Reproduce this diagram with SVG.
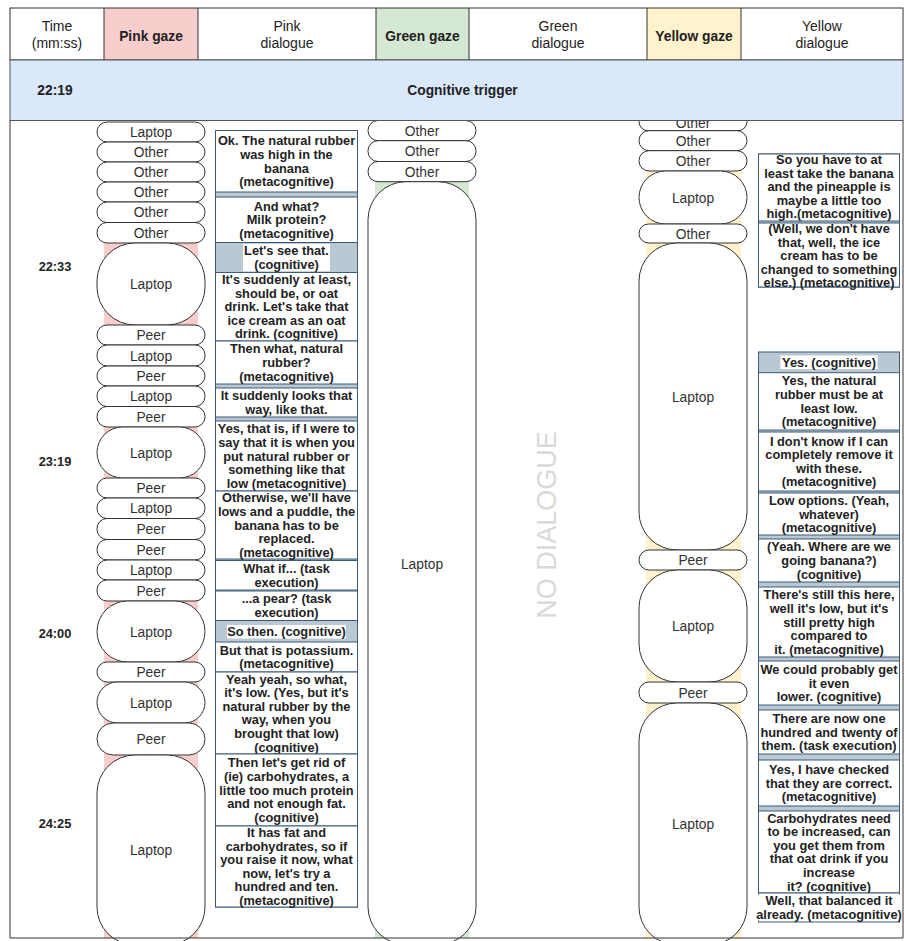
<svg xmlns="http://www.w3.org/2000/svg" width="904" height="941" viewBox="0 0 904 941">
<style>
text{font-family:"Liberation Sans",Arial,sans-serif;text-anchor:middle}
.h{font-size:14px;fill:#222}
.hb{font-size:13.8px;fill:#222;font-weight:bold}
.tm{font-size:12.8px;font-weight:bold;fill:#222}
.gz rect{fill:#fff;stroke:#333;stroke-width:1}
.gz text{font-size:13.8px;fill:#333}
.dl text{font-size:12.8px;font-weight:bold;fill:#222}
.bg{fill:#bac8d3;stroke:#3b5b78;stroke-width:1}
.wb{fill:#fff;stroke:#3b5b78;stroke-width:1}
.lb{fill:#fff}
.ln{stroke:#333;stroke-width:1;fill:none}
</style>

<!-- header -->
<g id="header">
<rect x="10" y="8" width="893" height="52" fill="#fff"/>
<rect x="104" y="8" width="94" height="52" fill="#f8cecc"/>
<rect x="376" y="8" width="93" height="52" fill="#d5e8d4"/>
<rect x="647" y="8" width="94" height="52" fill="#fff2cc"/>
<rect class="ln" x="10" y="8" width="893" height="52"/>
<path class="ln" d="M104 8V60M198 8V60M376 8V60M469 8V60M647 8V60M741 8V60"/>
<text class="h" x="57" y="30.5">Time</text>
<text class="h" x="57" y="48">(mm:ss)</text>
<text class="hb" x="151" y="40.5">Pink gaze</text>
<text class="h" x="287" y="30.5">Pink</text>
<text class="h" x="287" y="48">dialogue</text>
<text class="hb" x="422.5" y="40.5">Green gaze</text>
<text class="h" x="558" y="30.5">Green</text>
<text class="h" x="558" y="48">dialogue</text>
<text class="hb" x="694" y="40.5">Yellow gaze</text>
<text class="h" x="822" y="30.5">Yellow</text>
<text class="h" x="822" y="48">dialogue</text>
</g>

<!-- column strips -->
<rect x="104" y="243" width="94" height="695" fill="#f8cecc"/>
<rect x="375" y="182" width="94" height="756" fill="#d5e8d4"/>
<rect x="646" y="171" width="95" height="767" fill="#fff2cc"/>

<!-- time labels -->
<g id="times">
<text class="tm" x="55" y="270.5">22:33</text>
<text class="tm" x="55" y="465.5">23:19</text>
<text class="tm" x="55" y="637.5">24:00</text>
<text class="tm" x="55" y="827.5">24:25</text>
</g>

<!-- pink gaze -->
<g class="gz" id="pink-gaze">
<g id="pg1"><rect x="97" y="122" width="108" height="20" rx="10" ry="10"/><text x="151" y="137">Laptop</text></g>
<g id="pg2"><rect x="97" y="142" width="108" height="20" rx="10" ry="10"/><text x="151" y="157">Other</text></g>
<g id="pg3"><rect x="97" y="162" width="108" height="20" rx="10" ry="10"/><text x="151" y="177">Other</text></g>
<g id="pg4"><rect x="97" y="182" width="108" height="20" rx="10" ry="10"/><text x="151" y="197">Other</text></g>
<g id="pg5"><rect x="97" y="202" width="108" height="20.5" rx="10" ry="10"/><text x="151" y="217">Other</text></g>
<g id="pg6"><rect x="97" y="222.5" width="108" height="20.5" rx="10" ry="10"/><text x="151" y="237.5">Other</text></g>
<g id="pg7"><rect x="97" y="243" width="108" height="82" rx="38" ry="38"/><text x="151" y="289">Laptop</text></g>
<g id="pg8"><rect x="97" y="325" width="108" height="20" rx="10" ry="10"/><text x="151" y="340">Peer</text></g>
<g id="pg9"><rect x="97" y="345" width="108" height="21" rx="10" ry="10"/><text x="151" y="360.5">Laptop</text></g>
<g id="pg10"><rect x="97" y="366" width="108" height="20" rx="10" ry="10"/><text x="151" y="381">Peer</text></g>
<g id="pg11"><rect x="97" y="386" width="108" height="20.5" rx="10" ry="10"/><text x="151" y="401">Laptop</text></g>
<g id="pg12"><rect x="97" y="406.5" width="108" height="20.5" rx="10" ry="10"/><text x="151" y="421.5">Peer</text></g>
<g id="pg13"><rect x="97" y="427" width="108" height="51" rx="25.5" ry="25.5"/><text x="151" y="457.5">Laptop</text></g>
<g id="pg14"><rect x="97" y="478" width="108" height="20" rx="10" ry="10"/><text x="151" y="493">Peer</text></g>
<g id="pg15"><rect x="97" y="498" width="108" height="20.5" rx="10" ry="10"/><text x="151" y="513">Laptop</text></g>
<g id="pg16"><rect x="97" y="518.5" width="108" height="21" rx="10" ry="10"/><text x="151" y="534">Peer</text></g>
<g id="pg17"><rect x="97" y="539.5" width="108" height="20.5" rx="10" ry="10"/><text x="151" y="554.5">Peer</text></g>
<g id="pg18"><rect x="97" y="560" width="108" height="20" rx="10" ry="10"/><text x="151" y="575">Laptop</text></g>
<g id="pg19"><rect x="97" y="580" width="108" height="21" rx="10" ry="10"/><text x="151" y="595.5">Peer</text></g>
<g id="pg20"><rect x="97" y="601" width="108" height="61" rx="30.5" ry="30.5"/><text x="151" y="636.5">Laptop</text></g>
<g id="pg21"><rect x="97" y="662" width="108" height="20" rx="10" ry="10"/><text x="151" y="677">Peer</text></g>
<g id="pg22"><rect x="97" y="682" width="108" height="41" rx="20.5" ry="20.5"/><text x="151" y="707.5">Laptop</text></g>
<g id="pg23"><rect x="97" y="723" width="108" height="32" rx="16" ry="16"/><text x="151" y="744">Peer</text></g>
<g id="pg24"><rect x="97" y="755" width="108" height="190" rx="38" ry="38"/><text x="151" y="855">Laptop</text></g>
</g>

<!-- green gaze -->
<g class="gz" id="green-gaze">
<g id="gg1"><rect x="368" y="120.5" width="108" height="20.2" rx="10" ry="10"/><text x="422" y="135.5">Other</text></g>
<g id="gg2"><rect x="368" y="140.7" width="108" height="20.8" rx="10" ry="10"/><text x="422" y="156">Other</text></g>
<g id="gg3"><rect x="368" y="161.5" width="108" height="20.2" rx="10" ry="10"/><text x="422" y="176.5">Other</text></g>
<g id="gg4"><rect x="368" y="181.7" width="108" height="763" rx="38" ry="38"/><text x="422" y="568.5">Laptop</text></g>
</g>

<!-- yellow gaze -->
<g class="gz" id="yellow-gaze">
<g id="yg1"><rect x="639" y="112" width="108" height="18.7" rx="9" ry="9"/><text x="693" y="128">Other</text></g>
<g id="yg2"><rect x="639" y="130.7" width="108" height="20" rx="10" ry="10"/><text x="693" y="145.7">Other</text></g>
<g id="yg3"><rect x="639" y="150.7" width="108" height="20.3" rx="10" ry="10"/><text x="693" y="165.8">Other</text></g>
<g id="yg4"><rect x="639" y="171" width="108" height="53" rx="26.5" ry="26.5"/><text x="693" y="202.5">Laptop</text></g>
<g id="yg5"><rect x="639" y="224" width="108" height="19" rx="9.5" ry="9.5"/><text x="693" y="238.5">Other</text></g>
<g id="yg6"><rect x="639" y="243" width="108" height="307" rx="38" ry="38"/><text x="693" y="401.5">Laptop</text></g>
<g id="yg7"><rect x="639" y="550" width="108" height="20" rx="10" ry="10"/><text x="693" y="565">Peer</text></g>
<g id="yg8"><rect x="639" y="570" width="108" height="112" rx="38" ry="38"/><text x="693" y="631">Laptop</text></g>
<g id="yg9"><rect x="639" y="682" width="108" height="21" rx="10" ry="10"/><text x="693" y="697.5">Peer</text></g>
<g id="yg10"><rect x="639" y="703" width="108" height="242" rx="38" ry="38"/><text x="693" y="829">Laptop</text></g>
</g>

<!-- trigger row (drawn over the first boxes) -->
<g id="trigger">
<rect x="10" y="60" width="893" height="60.5" fill="#dae8fc" stroke="#555" stroke-width="1"/>
<text class="hb" x="55" y="95">22:19</text>
<text class="hb" x="462.5" y="95">Cognitive trigger</text>
</g>

<!-- pink dialogue -->
<g class="dl" id="pink-dialogue">
<rect class="bg" x="215.5" y="130.5" width="142" height="776.5"/>
<g id="pd1"><rect class="wb" x="215.5" y="130.5" width="142" height="61.5"/>
<text x="286.5" y="145.35"><tspan x="286.5">Ok. The natural rubber</tspan><tspan x="286.5" dy="13.6">was high in the</tspan><tspan x="286.5" dy="13.6">banana</tspan><tspan x="286.5" dy="13.6">(metacognitive)</tspan></text></g>
<g id="pd2"><rect class="wb" x="215.5" y="197" width="142" height="45.5"/>
<text x="286.5" y="210.65"><tspan x="286.5">And what?</tspan><tspan x="286.5" dy="13.6">Milk protein?</tspan><tspan x="286.5" dy="13.6">(metacognitive)</tspan></text></g>
<g id="pd3"><rect class="lb" x="243" y="244" width="87" height="27.2"/>
<text x="286.5" y="255.2"><tspan x="286.5">Let's see that.</tspan><tspan x="286.5" dy="13.6">(cognitive)</tspan></text></g>
<g id="pd4"><rect class="wb" x="215.5" y="272.5" width="142" height="68.5"/>
<text x="286.5" y="284.05"><tspan x="286.5">It's suddenly at least,</tspan><tspan x="286.5" dy="13.6">should be, or oat</tspan><tspan x="286.5" dy="13.6">drink. Let's take that</tspan><tspan x="286.5" dy="13.6">ice cream as an oat</tspan><tspan x="286.5" dy="13.6">drink. (cognitive)</tspan></text></g>
<g id="pd5"><rect class="wb" x="215.5" y="341" width="142" height="43"/>
<text x="286.5" y="353.4"><tspan x="286.5">Then what, natural</tspan><tspan x="286.5" dy="13.6">rubber?</tspan><tspan x="286.5" dy="13.6">(metacognitive)</tspan></text></g>
<g id="pd6"><rect class="wb" x="215.5" y="388" width="142" height="29"/>
<text x="286.5" y="400.2"><tspan x="286.5">It suddenly looks that</tspan><tspan x="286.5" dy="13.6">way, like that.</tspan></text></g>
<g id="pd7"><rect class="wb" x="215.5" y="421" width="142" height="70"/>
<text x="286.5" y="433.3"><tspan x="286.5">Yes, that is, if I were to</tspan><tspan x="286.5" dy="13.6">say that it is when you</tspan><tspan x="286.5" dy="13.6">put natural rubber or</tspan><tspan x="286.5" dy="13.6">something like that</tspan><tspan x="286.5" dy="13.6">low (metacognitive)</tspan></text></g>
<g id="pd8"><rect class="wb" x="215.5" y="491" width="142" height="68"/>
<text x="286.5" y="502.3"><tspan x="286.5">Otherwise, we'll have</tspan><tspan x="286.5" dy="13.6">lows and a puddle, the</tspan><tspan x="286.5" dy="13.6">banana has to be</tspan><tspan x="286.5" dy="13.6">replaced.</tspan><tspan x="286.5" dy="13.6">(metacognitive)</tspan></text></g>
<g id="pd9"><rect class="wb" x="215.5" y="560.5" width="142" height="29.5"/>
<text x="286.5" y="572.95"><tspan x="286.5">What if... (task</tspan><tspan x="286.5" dy="13.6">execution)</tspan></text></g>
<g id="pd10"><rect class="wb" x="215.5" y="591" width="142" height="29.5"/>
<text x="286.5" y="603.45"><tspan x="286.5">...a pear? (task</tspan><tspan x="286.5" dy="13.6">execution)</tspan></text></g>
<g id="pd11"><rect class="lb" x="227" y="625" width="119" height="13.6"/>
<text x="286.5" y="636.25">So then. (cognitive)</text></g>
<g id="pd12"><rect class="wb" x="215.5" y="642" width="142" height="30"/>
<text x="286.5" y="654.7"><tspan x="286.5">But that is potassium.</tspan><tspan x="286.5" dy="13.6">(metacognitive)</tspan></text></g>
<g id="pd13"><rect class="wb" x="215.5" y="672" width="142" height="82"/>
<text x="286.5" y="683.5"><tspan x="286.5">Yeah yeah, so what,</tspan><tspan x="286.5" dy="13.6">it's low. (Yes, but it's</tspan><tspan x="286.5" dy="13.6">natural rubber by the</tspan><tspan x="286.5" dy="13.6">way, when you</tspan><tspan x="286.5" dy="13.6">brought that low)</tspan><tspan x="286.5" dy="13.6">(cognitive)</tspan></text></g>
<g id="pd14"><rect class="wb" x="215.5" y="754" width="142" height="72"/>
<text x="286.5" y="767.3"><tspan x="286.5">Then let's get rid of</tspan><tspan x="286.5" dy="13.6">(ie) carbohydrates, a</tspan><tspan x="286.5" dy="13.6">little too much protein</tspan><tspan x="286.5" dy="13.6">and not enough fat.</tspan><tspan x="286.5" dy="13.6">(cognitive)</tspan></text></g>
<g id="pd15"><rect class="wb" x="215.5" y="826" width="142" height="81"/>
<text x="286.5" y="837"><tspan x="286.5">It has fat and</tspan><tspan x="286.5" dy="13.6">carbohydrates, so if</tspan><tspan x="286.5" dy="13.6">you raise it now, what</tspan><tspan x="286.5" dy="13.6">now, let's try a</tspan><tspan x="286.5" dy="13.6">hundred and ten.</tspan><tspan x="286.5" dy="13.6">(metacognitive)</tspan></text></g>
</g>

<!-- green dialogue -->
<g id="green-dialogue">
<text x="556" y="525" transform="rotate(-90 556 525)" font-size="27" fill="#d9d9d9" style="font-family:'Liberation Sans',Arial,sans-serif">NO DIALOGUE</text>
</g>

<!-- yellow dialogue -->
<g class="dl" id="yellow-dialogue">
<rect class="bg" x="758.5" y="154" width="141" height="133"/>
<g id="yd1"><rect class="wb" x="758.5" y="154" width="141" height="67"/>
<text x="829" y="164"><tspan x="829">So you have to at</tspan><tspan x="829" dy="13.5">least take the banana</tspan><tspan x="829" dy="13.5">and the pineapple is</tspan><tspan x="829" dy="13.5">maybe a little too</tspan><tspan x="829" dy="13.5">high.(metacognitive)</tspan></text></g>
<g id="yd2"><rect class="wb" x="758.5" y="223" width="141" height="64"/>
<text x="829" y="233.2"><tspan x="829">(Well, we don't have</tspan><tspan x="829" dy="13.5">that, well, the ice</tspan><tspan x="829" dy="13.5">cream has to be</tspan><tspan x="829" dy="13.5">changed to something</tspan><tspan x="829" dy="13.5">else.) (metacognitive)</tspan></text></g>
<rect class="bg" x="758.5" y="352" width="141" height="541"/>
<g id="yd3"><rect class="lb" x="780.5" y="355.5" width="97" height="13.6"/>
<text x="829" y="366.85">Yes. (cognitive)</text></g>
<g id="yd4"><rect class="wb" x="758.5" y="372.7" width="141" height="57.3"/>
<text x="829" y="385.45"><tspan x="829">Yes, the natural</tspan><tspan x="829" dy="13.6">rubber must be at</tspan><tspan x="829" dy="13.6">least low.</tspan><tspan x="829" dy="13.6">(metacognitive)</tspan></text></g>
<g id="yd5"><rect class="wb" x="758.5" y="432" width="141" height="59"/>
<text x="829" y="445.6"><tspan x="829">I don't know if I can</tspan><tspan x="829" dy="13.6">completely remove it</tspan><tspan x="829" dy="13.6">with these.</tspan><tspan x="829" dy="13.6">(metacognitive)</tspan></text></g>
<g id="yd6"><rect class="wb" x="758.5" y="493" width="141" height="42"/>
<text x="829" y="504.9"><tspan x="829">Low options. (Yeah,</tspan><tspan x="829" dy="13.6">whatever)</tspan><tspan x="829" dy="13.6">(metacognitive)</tspan></text></g>
<g id="yd7"><rect class="wb" x="758.5" y="539" width="141" height="43"/>
<text x="829" y="551.4"><tspan x="829">(Yeah. Where are we</tspan><tspan x="829" dy="13.6">going banana?)</tspan><tspan x="829" dy="13.6">(cognitive)</tspan></text></g>
<g id="yd8"><rect class="wb" x="758.5" y="587" width="141" height="70"/>
<text x="829" y="599.3"><tspan x="829">There's still this here,</tspan><tspan x="829" dy="13.6">well it's low, but it's</tspan><tspan x="829" dy="13.6">still pretty high</tspan><tspan x="829" dy="13.6">compared to</tspan><tspan x="829" dy="13.6">it. (metacognitive)</tspan></text></g>
<g id="yd9"><rect class="wb" x="758.5" y="661" width="141" height="44"/>
<text x="829" y="673.9"><tspan x="829">We could probably get</tspan><tspan x="829" dy="13.6">it even</tspan><tspan x="829" dy="13.6">lower. (cognitive)</tspan></text></g>
<g id="yd10"><rect class="wb" x="758.5" y="710" width="141" height="44"/>
<text x="829" y="722.9"><tspan x="829">There are now one</tspan><tspan x="829" dy="13.6">hundred and twenty of</tspan><tspan x="829" dy="13.6">them. (task execution)</tspan></text></g>
<g id="yd11"><rect class="wb" x="758.5" y="760" width="141" height="46"/>
<text x="829" y="773.9"><tspan x="829">Yes, I have checked</tspan><tspan x="829" dy="13.6">that they are correct.</tspan><tspan x="829" dy="13.6">(metacognitive)</tspan></text></g>
<g id="yd12"><rect class="wb" x="758.5" y="811" width="141" height="82"/>
<text x="829" y="822.5"><tspan x="829">Carbohydrates need</tspan><tspan x="829" dy="13.6">to be increased, can</tspan><tspan x="829" dy="13.6">you get them from</tspan><tspan x="829" dy="13.6">that oat drink if you</tspan><tspan x="829" dy="13.6">increase</tspan><tspan x="829" dy="13.6">it? (cognitive)</tspan></text></g>
<g id="yd13"><rect class="wb" x="758.5" y="893" width="141" height="29"/>
<rect class="lb" x="755" y="894.5" width="148" height="26"/>
<text x="829" y="905.2"><tspan x="829">Well, that balanced it</tspan><tspan x="829" dy="13.6">already. (metacognitive)</tspan></text></g>
</g>

<!-- outer border -->
<path class="ln" d="M10 120.5V938H903V120.5"/>
</svg>
